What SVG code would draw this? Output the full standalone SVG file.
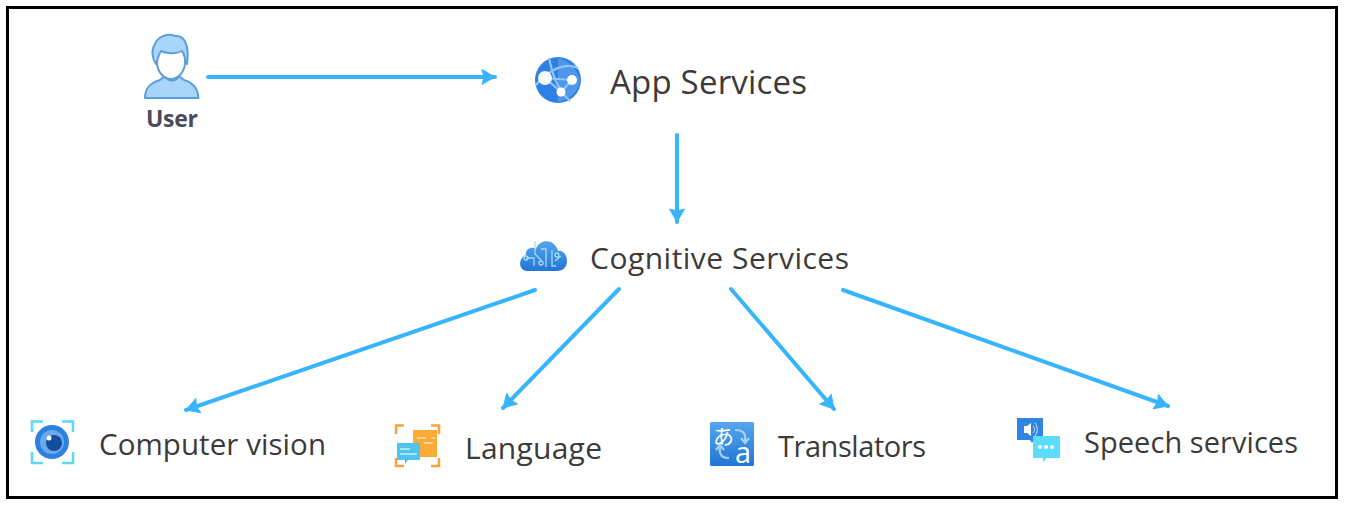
<svg xmlns="http://www.w3.org/2000/svg" width="1345" height="507" viewBox="0 0 1345 507">
<style>
.lbl{font-family:"Open Sans","Noto Sans","Liberation Sans",sans-serif;fill:#3b3a39}
.c{fill:none;stroke:#38b4fd;stroke-width:4;stroke-linecap:round;marker-end:url(#ah)}
.w{fill:#fff}
.t{fill:none;stroke:#a5dcfa;stroke-width:1.300}
</style>
<defs>
<marker id="ah" markerUnits="userSpaceOnUse" markerWidth="18" markerHeight="20" refX="14" refY="10" orient="auto">
<path d="M1 2.500L14 10L1 17.500L3 10Z" fill="#38b4fd" stroke="#38b4fd" stroke-width="1" stroke-linejoin="round"/>
</marker>
<linearGradient id="b" x1="0" y1="0" x2="0" y2="1"><stop offset="0" stop-color="#55a5ee"/><stop offset="1" stop-color="#2176d6"/></linearGradient>
</defs>
<rect id="frame" x="7.500" y="7.500" width="1329" height="490" fill="#fff" stroke="#000" stroke-width="3"/>
<g id="connectors">
<path class="c" d="M208 77H495"/>
<path class="c" d="M677 135V222"/>
<path class="c" d="M535 290L186 410"/>
<path class="c" d="M619 289L503 408"/>
<path class="c" d="M731 289L834 409"/>
<path class="c" d="M843 290L1168 406"/>
</g>
<g id="user">
<path d="M145 98C145 88 150 83 160 80L165 76C168 82 176 82 179 76L184 80C194 83 198 89 198.500 98Z" fill="#a8d5fb" stroke="#5a9fda" stroke-width="2" stroke-linejoin="round"/>
<path d="M157 50V62C157 72 164 79 171 79C178 79 185 72 185 62V50Z" class="w" stroke="#5a9fda" stroke-width="2"/>
<path d="M156 64C152 58 151 50 155 44C158 36 168 33 175 36C183 35 190 43 187 64C185 60 185 55 182 51C175 55 165 53 161 51C158 55 158 60 156 64Z" fill="#a8d5fb" stroke="#5a9fda" stroke-width="2" stroke-linejoin="round"/>
<text x="146" y="127" font-family="'Open Sans','Noto Sans',sans-serif" font-weight="700" font-size="23" fill="#4a4a5a" textLength="52">User</text>
</g>
<g id="app-services">
<circle cx="558" cy="80" r="23" fill="#2f80e4"/>
<path d="M558 58C568 60 576 68 580 80C578 92 570 100 558 102Z" fill="#4f97ea"/>
<path d="M549 58C552 72 556 88 570 101M536 85C548 70 565 62 578 68M545 78L572 80M545 78L561 92L572 80" fill="none" stroke="#8fc6f7" stroke-width="2.200"/>
<circle class="w" cx="545" cy="78" r="7" fill-opacity=".95"/><circle class="w" cx="572" cy="80" r="5"/><circle class="w" cx="561" cy="92" r="4.500"/>
<text class="lbl" x="610" y="94" font-size="33" textLength="197">App Services</text>
</g>
<g id="cognitive-services">
<path d="M527 271C518 270 518 258 526 255C525 249 532 246 536 249C540 238 555 239 558 251C563 250 567 255 567 261C567 267 563 271 557 271Z" fill="url(#b)"/>
<path class="t" d="M535 241V254L541 260V262M541 249H546V267M552 250V266H556M526 258H534V266M561 256L555 261"/>
<circle class="t" cx="541" cy="263" r="2"/><circle class="t" cx="526" cy="258" r="2"/><circle class="t" cx="557" cy="255" r="2"/>
<text class="lbl" x="590" y="269" font-size="30" textLength="259">Cognitive Services</text>
</g>
<g id="computer-vision">
<path d="M32 432V421.500H43M62 421.500H73V432M32 452V463H43M62 463H73V452" fill="none" stroke="#5ad7fb" stroke-width="2.500"/>
<circle cx="52" cy="442" r="17" fill="#2c80e0"/><circle cx="52" cy="442" r="12" fill="#6ea8ec"/><circle cx="54" cy="443" r="8" fill="#0f4f9e"/><circle cx="49" cy="438" r="2.500" class="w"/>
<text class="lbl" x="99" y="455" font-size="29.500" textLength="227">Computer vision</text>
</g>
<g id="language">
<path d="M396 434V425.500H404M431 425.500H439V434M396 458V466H404M431 466H439V458" fill="none" stroke="#f7a53a" stroke-width="2.500"/>
<rect x="413" y="430" width="24" height="27" fill="#fbab36"/>
<path d="M417 438H426M431 438H435M424 443H433" stroke="#fde3b8" stroke-width="1.500"/>
<path d="M397 443H420V460H408L405 464V460H397Z" fill="#4fc4ee"/>
<path d="M400 449H410M400 454H417" stroke="#c9eefb" stroke-width="1.500"/>
<text class="lbl" x="465" y="459" font-size="30" textLength="137">Language</text>
</g>
<g id="translators">
<rect x="710" y="422" width="44" height="44" rx="1.500" fill="url(#b)"/>
<text x="713" y="444" font-family="'Noto Sans CJK JP',sans-serif" font-size="21" fill="#fff">あ</text>
<text x="735" y="463" font-family="'Open Sans',sans-serif" font-size="29" fill="#fff">a</text>
<path d="M735 430C743 430 746 433 745 441M741 438L745 443L749 438M729 458C722 458 719 455 720 447M716 450L720 445L724 450" fill="none" stroke="#a5d3f7" stroke-width="2.200"/>
<text class="lbl" x="778" y="457" font-size="29" textLength="148">Translators</text>
</g>
<g id="speech-services">
<path d="M1017 418H1043V440H1034L1032 443L1030 440H1017Z" fill="#3185e2"/>
<path d="M1024 426H1027L1031 423V436L1027 433H1024Z" class="w"/>
<path d="M1033 426C1035 428 1035 431 1033 433M1035 423C1038 427 1038 432 1035 436" fill="none" stroke="#d5e8fb" stroke-width="1"/>
<path d="M1033 436H1060V458H1047L1043 462V458H1033Z" fill="#5cdcfd"/>
<circle class="w" cx="1040" cy="447" r="2"/><circle class="w" cx="1046" cy="447" r="2"/><circle class="w" cx="1052" cy="447" r="2"/>
<text class="lbl" x="1084" y="453" font-size="29" textLength="214">Speech services</text>
</g>
</svg>
